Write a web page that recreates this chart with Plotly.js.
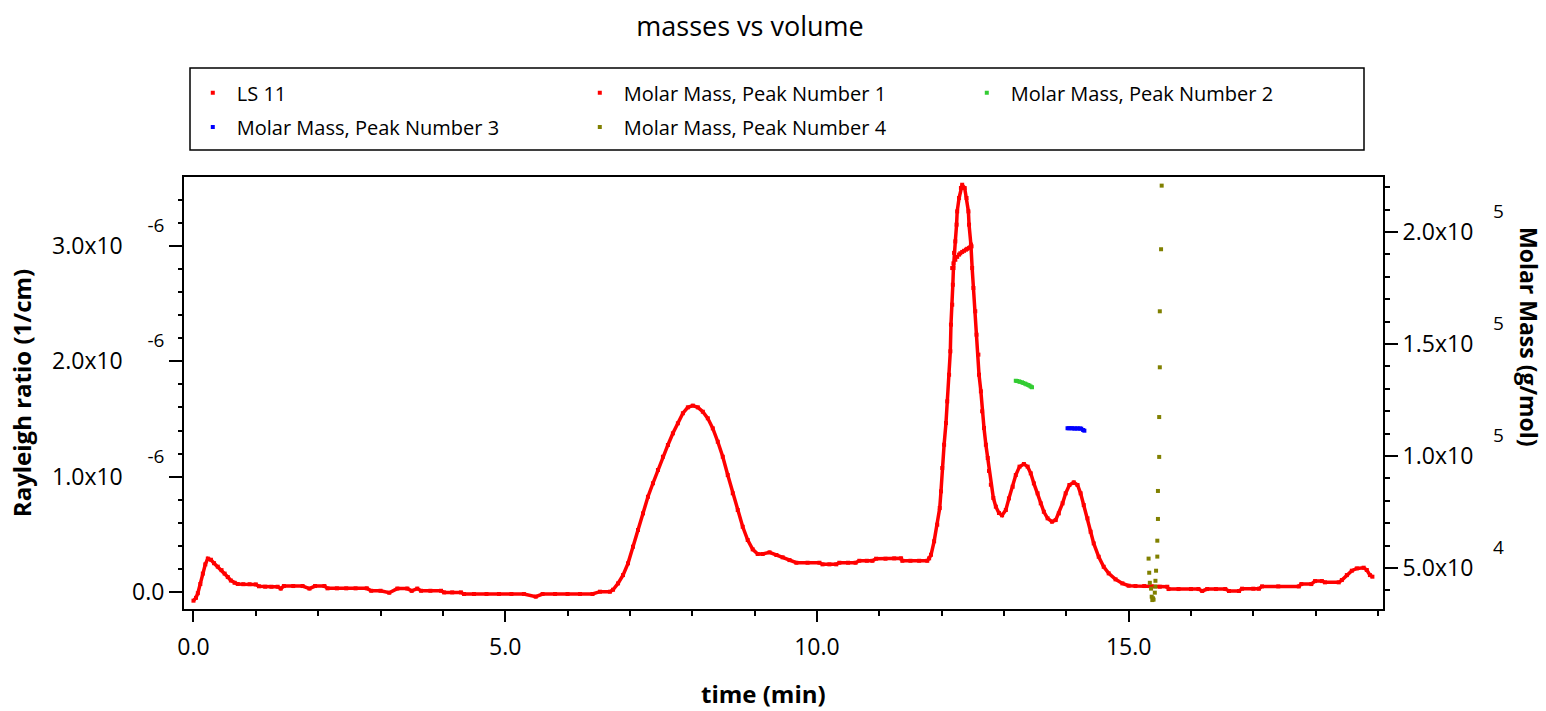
<!DOCTYPE html>
<html><head><meta charset="utf-8">
<script src="https://cdn.plot.ly/plotly-3.0.1.min.js"></script>
<style>html,body{margin:0;padding:0;background:#fff}#chart{width:1546px;height:711px}</style>
</head><body><div id="chart"></div>
<script>
// ---- LS 11 (Rayleigh ratio, in units of 1e-6 1/cm) ----
const lsTime = [0.00,0.04,0.07,0.11,0.15,0.19,0.23,0.28,0.33,0.39,0.45,0.50,0.55,0.60,0.66,0.71,0.80,0.90,1.00,1.05,1.15,1.25,1.35,1.40,1.45,1.60,1.75,1.86,1.95,2.10,2.15,2.30,2.45,2.60,2.78,2.85,3.00,3.14,3.27,3.43,3.50,3.59,3.65,3.80,3.97,4.02,4.15,4.29,4.34,4.50,4.70,4.90,5.10,5.30,5.49,5.60,5.80,6.00,6.20,6.40,6.52,6.68,6.73,6.81,6.89,6.97,7.05,7.13,7.21,7.29,7.37,7.45,7.53,7.61,7.69,7.77,7.85,7.93,8.01,8.09,8.17,8.25,8.33,8.41,8.49,8.57,8.65,8.73,8.81,8.89,8.97,9.05,9.13,9.24,9.35,9.45,9.56,9.67,9.85,10.04,10.09,10.20,10.31,10.36,10.50,10.62,10.68,10.80,10.89,10.95,11.10,11.24,11.35,11.37,11.50,11.64,11.77,11.80,11.83,11.88,11.93,11.97,11.99,12.01,12.04,12.07,12.09,12.12,12.14,12.15,12.17,12.18,12.19,12.20,12.22,12.24,12.25,12.28,12.31,12.33,12.37,12.40,12.43,12.44,12.47,12.49,12.51,12.54,12.56,12.59,12.60,12.63,12.65,12.68,12.71,12.74,12.76,12.79,12.83,12.87,12.92,12.97,13.03,13.08,13.14,13.19,13.25,13.32,13.38,13.43,13.48,13.54,13.59,13.64,13.70,13.77,13.83,13.88,13.94,13.99,14.05,14.12,14.18,14.23,14.28,14.34,14.39,14.44,14.52,14.60,14.68,14.79,14.90,15.00,15.11,15.25,15.37,15.50,15.62,15.64,15.80,16.00,16.12,16.18,16.26,16.40,16.55,16.61,16.77,16.82,17.00,17.09,17.14,17.40,17.73,17.77,17.93,17.99,18.10,18.15,18.37,18.42,18.50,18.58,18.66,18.77,18.82,18.87,18.91];
const lsValueE6 = [-0.075,-0.05,-0.01,0.07,0.16,0.24,0.29,0.28,0.25,0.22,0.19,0.16,0.13,0.10,0.08,0.07,0.068,0.068,0.066,0.05,0.046,0.046,0.046,0.03,0.052,0.052,0.052,0.03,0.052,0.052,0.032,0.032,0.032,0.032,0.032,0.011,0.011,-0.006,0.03,0.03,0.01,0.03,0.011,0.011,0.011,-0.003,-0.003,-0.003,-0.017,-0.017,-0.017,-0.017,-0.017,-0.017,-0.04,-0.017,-0.017,-0.017,-0.017,-0.017,0.003,0.003,0.02,0.075,0.147,0.249,0.393,0.538,0.682,0.826,0.943,1.058,1.173,1.275,1.376,1.463,1.550,1.601,1.616,1.601,1.563,1.506,1.419,1.303,1.173,1.014,0.856,0.711,0.566,0.451,0.370,0.330,0.330,0.344,0.321,0.301,0.277,0.254,0.254,0.254,0.240,0.240,0.240,0.254,0.254,0.254,0.271,0.271,0.271,0.289,0.289,0.292,0.292,0.271,0.271,0.271,0.271,0.292,0.323,0.44,0.584,0.728,0.873,1.075,1.277,1.465,1.653,1.884,2.087,2.318,2.491,2.664,2.809,2.94,3.04,3.185,3.30,3.416,3.503,3.531,3.503,3.416,3.30,3.185,3.012,2.809,2.636,2.434,2.231,2.058,1.884,1.740,1.567,1.422,1.277,1.162,1.05,0.93,0.815,0.74,0.685,0.665,0.711,0.812,0.913,1.014,1.087,1.110,1.087,1.029,0.942,0.856,0.769,0.696,0.639,0.610,0.624,0.682,0.769,0.856,0.928,0.951,0.928,0.856,0.754,0.639,0.523,0.422,0.306,0.219,0.162,0.110,0.075,0.055,0.052,0.052,0.050,0.046,0.046,0.026,0.026,0.026,0.026,0.009,0.026,0.026,0.026,0.009,0.009,0.029,0.029,0.029,0.049,0.049,0.049,0.069,0.069,0.095,0.095,0.084,0.084,0.104,0.147,0.185,0.205,0.211,0.191,0.147,0.133];

// ---- Molar mass (g/mol) per peak ----
const peak1Time = [12.17,12.19,12.22,12.25,12.28,12.30,12.33,12.36,12.39,12.41,12.44,12.46,12.48];
const peak1Mass = [183900,186000,187600,188900,189900,190500,191100,191600,192100,192500,192900,193200,193600];
const peak2Time = [13.19,13.21,13.24,13.26,13.29,13.31,13.34,13.36,13.39,13.41,13.43,13.45];
const peak2Mass = [133600,133500,133300,133100,132900,132600,132300,132000,131700,131400,131000,130700];
const peak3Time = [14.02,14.04,14.07,14.09,14.12,14.14,14.17,14.19,14.22,14.24,14.27,14.29];
const peak3Mass = [112400,112400,112400,112400,112300,112300,112300,112300,112300,112200,111600,111300];
const peak4Time = [15.32,15.33,15.34,15.36,15.37,15.38,15.39,15.40,15.42,15.43,15.43,15.44,15.46,15.46,15.47,15.47,15.49,15.49,15.50,15.50,15.52,15.53];
const peak4Mass = [54200,47900,43400,40800,37200,35700,36500,35900,39000,41700,44300,48800,55100,62200,71900,84400,99600,117400,139600,164600,192300,220700];

// ---- Axis ticks ----
const xTickVals = [0, 5, 10, 15];
const leftTickVals = [0, 1e-6, 2e-6, 3e-6];
const leftTickMantissa = ["0.0", "1.0", "2.0", "3.0"];
const leftTickExp = ["", "-6", "-6", "-6"];
const rightTickVals = [5e4, 1e5, 1.5e5, 2e5];
const rightTickMantissa = ["5.0", "1.0", "1.5", "2.0"];
const rightTickExp = ["4", "5", "5", "5"];

const FONT = 'Open Sans, Noto Sans, sans-serif';
const NB = '\u00a0';
function expLabel(m, e, gap) {
  if (!e) return m;
  return m + 'x10<span style="font-size:19px;baseline-shift:22px">' + gap + e + '</span>';
}
const leftTickText = leftTickVals.map((v, i) => expLabel(leftTickMantissa[i], leftTickExp[i], NB.repeat(5)));
const rightTickText = rightTickVals.map((v, i) => expLabel(rightTickMantissa[i], rightTickExp[i], NB.repeat(4)));

const lsValue = lsValueE6.map(v => v * 1e-6);

const traces = [
  {x: lsTime, y: lsValue, type: 'scatter', mode: 'lines', line: {color: '#ff0000', width: 3.5},
   showlegend: false, hoverinfo: 'skip', xaxis: 'x', yaxis: 'y'},
  {x: lsTime, y: lsValue, type: 'scatter', mode: 'markers', name: 'LS 11',
   marker: {color: '#ff0000', size: 4, symbol: 'square'}, xaxis: 'x', yaxis: 'y', legend: 'legend'},
  {x: peak1Time, y: peak1Mass, type: 'scatter', mode: 'markers', name: 'Molar Mass, Peak Number 1',
   marker: {color: '#ff0000', size: 4, symbol: 'square'}, yaxis: 'y2', legend: 'legend'},
  {x: peak2Time, y: peak2Mass, type: 'scatter', mode: 'markers', name: 'Molar Mass, Peak Number 2',
   marker: {color: '#33cc33', size: 4, symbol: 'square'}, yaxis: 'y2', legend: 'legend'},
  {x: peak3Time, y: peak3Mass, type: 'scatter', mode: 'markers', name: 'Molar Mass, Peak Number 3',
   marker: {color: '#0000ff', size: 4, symbol: 'square'}, yaxis: 'y2', legend: 'legend2'},
  {x: peak4Time, y: peak4Mass, type: 'scatter', mode: 'markers', name: 'Molar Mass, Peak Number 4',
   marker: {color: '#808000', size: 4, symbol: 'square'}, yaxis: 'y2', legend: 'legend2'}
];

const legendCommon = {orientation: 'h', x: 0.004, xanchor: 'left', yanchor: 'middle',
  entrywidth: 334, itemwidth: 38, bgcolor: 'rgba(0,0,0,0)', borderwidth: 0,
  font: {family: FONT, size: 20, color: '#000'}};

const layout = {
  width: 1546, height: 711,
  margin: {l: 184, r: 163, t: 177, b: 102, pad: 0},
  paper_bgcolor: '#fff', plot_bgcolor: '#fff',
  font: {family: FONT, color: '#000'},
  title: {text: 'masses vs volume', font: {family: FONT, size: 27, color: '#000'},
    x: 750 / 1546, xanchor: 'center', xref: 'container', y: 1 - 27 / 711, yanchor: 'middle', yref: 'container'},
  showlegend: true,
  legend: Object.assign({}, legendCommon, {y: 1.195}),
  legend2: Object.assign({}, legendCommon, {y: 1.116}),
  xaxis: {
    range: [-0.152, 19.08], tickmode: 'array', tickvals: xTickVals, tickformat: '.1f',
    ticks: 'outside', ticklen: 11, tickwidth: 1.5, tickcolor: '#000', ticklabelstandoff: 5,
    minor: {tickmode: 'linear', tick0: 0, dtick: 1, ticks: 'outside', ticklen: 5, tickwidth: 1.5, tickcolor: '#000', showgrid: false},
    showline: true, linecolor: '#000', linewidth: 2, mirror: true,
    showgrid: false, zeroline: false,
    tickfont: {family: FONT, size: 23, color: '#000'}
  },
  yaxis: {
    range: [-0.147e-6, 3.598e-6], tickmode: 'array', tickvals: leftTickVals, ticktext: leftTickText,
    ticks: 'outside', ticklen: 13, tickwidth: 1.5, tickcolor: '#000',
    minor: {tickmode: 'linear', tick0: 0, dtick: 2e-7, ticks: 'outside', ticklen: 4, tickwidth: 1.5, tickcolor: '#000', showgrid: false},
    showline: true, linecolor: '#000', linewidth: 2,
    showgrid: false, zeroline: false,
    tickfont: {family: FONT, size: 23, color: '#000'},
    title: {text: 'Rayleigh ratio (1/cm)', font: {family: FONT, size: 24, color: '#000', weight: 'bold'}, standoff: 14}
  },
  yaxis2: {
    overlaying: 'y', side: 'right',
    range: [31707, 224552], tickmode: 'array', tickvals: rightTickVals, ticktext: rightTickText,
    ticks: 'outside', ticklen: 13, tickwidth: 1.5, tickcolor: '#000',
    minor: {tickmode: 'linear', tick0: 0, dtick: 1e4, ticks: 'outside', ticklen: 5, tickwidth: 1.5, tickcolor: '#000', showgrid: false},
    showline: true, linecolor: '#000', linewidth: 2,
    showgrid: false, zeroline: false,
    tickfont: {family: FONT, size: 23, color: '#000'}
  },
  shapes: [
    {type: 'rect', xref: 'paper', yref: 'paper', x0: (190 - 184) / 1199, x1: (1364 - 184) / 1199,
     y0: (609 - 150) / 432, y1: (609 - 68) / 432, line: {color: '#000', width: 1.5}, fillcolor: 'rgba(0,0,0,0)'}
  ],
  annotations: [
    {text: 'time (min)', xref: 'paper', yref: 'paper',
     x: (763 - 184) / 1199, y: (609 - 693) / 432, xanchor: 'center', yanchor: 'middle', showarrow: false,
     font: {family: FONT, size: 24, color: '#000', weight: 'bold'}},
    {text: 'Molar Mass (g/mol)', textangle: 90, xref: 'paper', yref: 'paper',
     x: (1529 - 184) / 1199, y: (609 - 337) / 432, xanchor: 'center', yanchor: 'middle', showarrow: false,
     font: {family: FONT, size: 23, color: '#000', weight: 'bold'}}
  ]
};

Plotly.newPlot('chart', traces, layout, {displayModeBar: false, responsive: false});
</script>
</body></html>
